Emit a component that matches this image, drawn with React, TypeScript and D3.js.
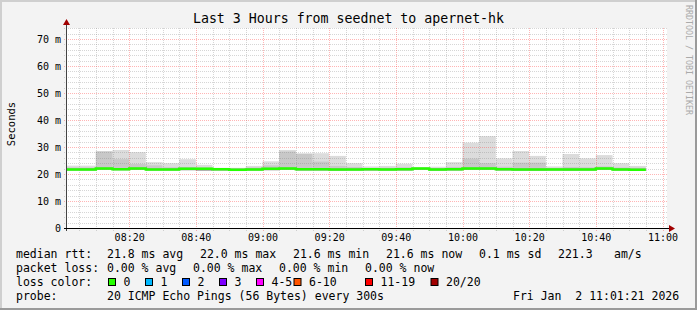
import React from "react";
import * as d3 from "d3";

// ---------- data ----------
const bucketMinutes = 5;
const firstBucket = new Date(2026, 0, 2, 8, 0, 0);
const viewStart = new Date(2026, 0, 2, 8, 1, 21);
const viewEnd = new Date(2026, 0, 2, 11, 1, 21);

const medianRtt = [
  21.7, 21.7, 22.0, 21.8, 22.0, 21.7, 21.7, 21.9, 21.9, 21.8,
  21.6, 21.7, 21.9, 22.0, 21.8, 21.8, 21.7, 21.7, 21.8, 21.7,
  21.8, 22.0, 21.7, 21.8, 22.0, 22.0, 21.8, 21.7, 21.7, 21.7,
  21.7, 21.7, 22.0, 21.7, 21.6,
];
const smokeMax = [
  23.1, 23.1, 28.5, 28.9, 28.1, 24.4, 24.0, 25.5, 23.4, 22.3,
  22.3, 23.0, 24.7, 28.9, 27.7, 27.7, 26.7, 24.0, 22.8, 23.0,
  23.8, 22.1, 22.7, 24.4, 31.6, 34.0, 25.8, 28.5, 26.7, 22.8,
  27.4, 25.8, 27.0, 24.0, 23.0,
];
const smokeMid = [
  22.4, 22.4, 28.3, 25.5, 23.7, 23.2, 22.5, 22.6, 22.3, 22.0,
  22.0, 22.4, 23.2, 28.3, 27.4, 24.6, 23.0, 22.6, 22.2, 22.3,
  22.5, 22.0, 22.2, 22.6, 25.7, 24.0, 22.7, 24.2, 24.2, 22.2,
  22.6, 22.5, 22.8, 22.4, 22.3,
];
const smokeMin = [
  21.3, 21.3, 21.5, 21.4, 21.5, 21.3, 21.3, 21.4, 21.2, 21.3,
  21.1, 21.3, 21.4, 21.5, 21.3, 21.3, 21.2, 21.3, 21.3, 21.3,
  21.3, 21.5, 21.2, 21.3, 21.5, 21.5, 21.3, 21.2, 21.2, 21.3,
  21.2, 21.3, 21.5, 21.3, 21.2,
];

const yMajorTicks = [0, 10, 20, 30, 40, 50, 60, 70];
const yTickLabels = ["0", "10 m", "20 m", "30 m", "40 m", "50 m", "60 m", "70 m"];

const title = "Last 3 Hours from seednet to apernet-hk";
const yTitle = "Seconds";
const watermark = "RRDTOOL / TOBI OETIKER";

const row1 = ["median rtt:", "21.8 ms avg", "22.0 ms max", "21.6 ms min", "21.6 ms now", "0.1 ms sd", "221.3", "am/s"];
const row1X = [16, 107, 200, 293, 386, 479, 558, 614];
const row2 = ["packet loss:", "0.00 % avg", "0.00 % max", "0.00 % min", "0.00 % now"];
const row2X = [16, 107, 193, 279, 365];
const lossLabels = ["0", "1", "2", "3", "4-5", "6-10", "11-19", "20/20"];
const lossColors = ["#26ff00", "#00b8ff", "#0059ff", "#7e00ff", "#ff00ff", "#ff5500", "#ff0000", "#a10000"];
const lossBoxX = [108.5, 145.5, 182.5, 219.5, 256.5, 294, 365.5, 431];
const probeLabel = "probe:";
const probeText = "20 ICMP Echo Pings (56 Bytes) every 300s";
const dateText = "Fri Jan  2 11:01:21 2026";

// ---------- layout ----------
const W = 697;
const H = 310;
const L = 67, R = 667, T = 28, B = 228;
const MONO = "'DejaVu Sans Mono', monospace";

export default function App() {
  const x = d3.scaleTime().domain([viewStart, viewEnd]).range([L, R]);
  const y = d3.scaleLinear().domain([0, 200 / 2.7]).range([B, T]);

  const buckets = medianRtt.map((m, i) => {
    const t0 = d3.timeMinute.offset(firstBucket, i * bucketMinutes);
    const t1 = d3.timeMinute.offset(firstBucket, (i + 1) * bucketMinutes);
    return { t0, t1, m, max: smokeMax[i], mid: smokeMid[i], min: smokeMin[i] };
  });

  const minorX = d3.timeMinute.every(5)!.range(viewStart, viewEnd);
  const majorX = d3.timeMinute.every(20)!.range(viewStart, viewEnd);
  const minorY = d3.range(0, 75, 2);
  const fmt = d3.timeFormat("%H:%M");

  const linePts: [Date, number][] = buckets.map((b) => [b.t0, b.m] as [Date, number]);
  linePts.push([buckets[buckets.length - 1].t1, buckets[buckets.length - 1].m]);
  const line = d3
    .line<[Date, number]>()
    .x((d) => x(d[0]))
    .y((d) => y(d[1]))
    .curve(d3.curveStepAfter);

  const minorGrid = "rgba(128,128,128,0.32)";
  const majorGrid = "rgba(255,60,60,0.38)";

  return (
    <svg
      width={W}
      height={H}
      style={{ position: "absolute", left: 0, top: 0, display: "block" }}
      fontFamily={MONO}
    >
      <defs>
        <clipPath id="plotClip">
          <rect x={L} y={T} width={R - L} height={B - T} />
        </clipPath>
      </defs>
      <rect x={0} y={0} width={W} height={H} fill="#f3f3f3" />
      <rect x={0} y={0} width={W} height={2} fill="#cfcfcf" />
      <rect x={0} y={0} width={2} height={H} fill="#cfcfcf" />
      <rect x={0} y={H - 2} width={W} height={2} fill="#9a9a9a" />
      <rect x={W - 2} y={0} width={2} height={H} fill="#9a9a9a" />

      <rect x={L} y={T} width={R - L} height={B - T} fill="#ffffff" />

      {/* smoke */}
      <g clipPath="url(#plotClip)">
        {buckets.map((b, i) => (
          <rect key={"l" + i} x={x(b.t0)} width={x(b.t1) - x(b.t0)} y={y(b.max)} height={y(b.min) - y(b.max)} fill="#dcdcdc" />
        ))}
        {buckets.map((b, i) => (
          <rect key={"m" + i} x={x(b.t0)} width={x(b.t1) - x(b.t0)} y={y(b.mid)} height={y(b.min) - y(b.mid)} fill="#c8c8c8" />
        ))}
        {buckets.map((b, i) => (
          <rect key={"d" + i} x={x(b.t0)} width={x(b.t1) - x(b.t0)} y={y(b.m + 0.4)} height={y(b.min) - y(b.m + 0.4)} fill="#a8a8a8" />
        ))}
      </g>

      {/* grid */}
      <g shapeRendering="crispEdges">
        {minorY.filter((v) => v % 10 !== 0).map((v) => (
          <line key={"my" + v} x1={L - 3} x2={R} y1={Math.round(y(v)) + 0.5} y2={Math.round(y(v)) + 0.5} stroke={minorGrid} strokeDasharray="1,1" />
        ))}
        {minorX.filter((t) => t.getMinutes() % 20 !== 0).map((t, i) => (
          <line key={"mx" + i} x1={Math.round(x(t)) + 0.5} x2={Math.round(x(t)) + 0.5} y1={T} y2={B + 3} stroke={minorGrid} strokeDasharray="1,1" />
        ))}
        {yMajorTicks.filter((v) => v > 0).map((v) => (
          <line key={"My" + v} x1={L - 3} x2={R} y1={Math.round(y(v)) + 0.5} y2={Math.round(y(v)) + 0.5} stroke={majorGrid} strokeDasharray="1,1" />
        ))}
        {majorX.map((t, i) => (
          <line key={"Mx" + i} x1={Math.round(x(t)) + 0.5} x2={Math.round(x(t)) + 0.5} y1={T} y2={B + 3} stroke={majorGrid} strokeDasharray="1,1" />
        ))}
      </g>

      {/* median line */}
      <g clipPath="url(#plotClip)">
        <path d={line(linePts) || ""} fill="none" stroke="#26ff00" strokeWidth={2.5} />
      </g>

      {/* axes */}
      <g shapeRendering="crispEdges">
        <line x1={L - 0.5} x2={L - 0.5} y1={T - 6} y2={B + 3} stroke="#444" />
        <line x1={L - 3} x2={R + 4} y1={B + 0.5} y2={B + 0.5} stroke="#000" />
      </g>
      <path d={`M${L - 4},${T - 3}L${L + 3},${T - 3}L${L - 0.5},${T - 9}Z`} fill="#a10000" />
      <path d={`M${R + 2},${B - 3}L${R + 2},${B + 4}L${R + 8},${B + 0.5}Z`} fill="#a10000" />

      {/* y labels */}
      {yMajorTicks.map((v, i) => (
        <text key={"yl" + v} x={61} y={y(v) + 3.5} textAnchor="end" fontSize={10} fill="#000">
          {yTickLabels[i]}
        </text>
      ))}
      {/* x labels */}
      {majorX.map((t, i) => (
        <text key={"xl" + i} x={x(t) + 0.5} y={241} textAnchor="middle" fontSize={10} fill="#000">
          {fmt(t)}
        </text>
      ))}

      <text x={W / 2} y={23} textAnchor="middle" fontSize={13.25} fill="#000">
        {title}
      </text>
      <text transform={`translate(15,124) rotate(-90)`} textAnchor="middle" fontSize={10.5} fill="#000">
        {yTitle}
      </text>
      <text transform={`translate(685.5,5) rotate(90)`} fontSize={8.3} fill="#aaaaaa">
        {watermark}
      </text>

      {/* legend */}
      <g fontSize={11.5} fill="#000" style={{ whiteSpace: "pre" }}>
        {row1.map((s, i) => (
          <text key={"r1" + i} x={row1X[i]} y={258} xmlSpace="preserve">{s}</text>
        ))}
        {row2.map((s, i) => (
          <text key={"r2" + i} x={row2X[i]} y={272} xmlSpace="preserve">{s}</text>
        ))}
        <text x={16} y={286}>loss color:</text>
        {lossLabels.map((s, i) => (
          <g key={"lc" + i}>
            <rect x={lossBoxX[i]} y={278.5} width={7} height={7} fill={lossColors[i]} stroke="#000" strokeWidth={1} />
            <text x={lossBoxX[i] + 15} y={286}>{s}</text>
          </g>
        ))}
        <text x={16} y={300}>{probeLabel}</text>
        <text x={107} y={300}>{probeText}</text>
        <text x={513} y={300} xmlSpace="preserve">{dateText}</text>
      </g>
    </svg>
  );
}
